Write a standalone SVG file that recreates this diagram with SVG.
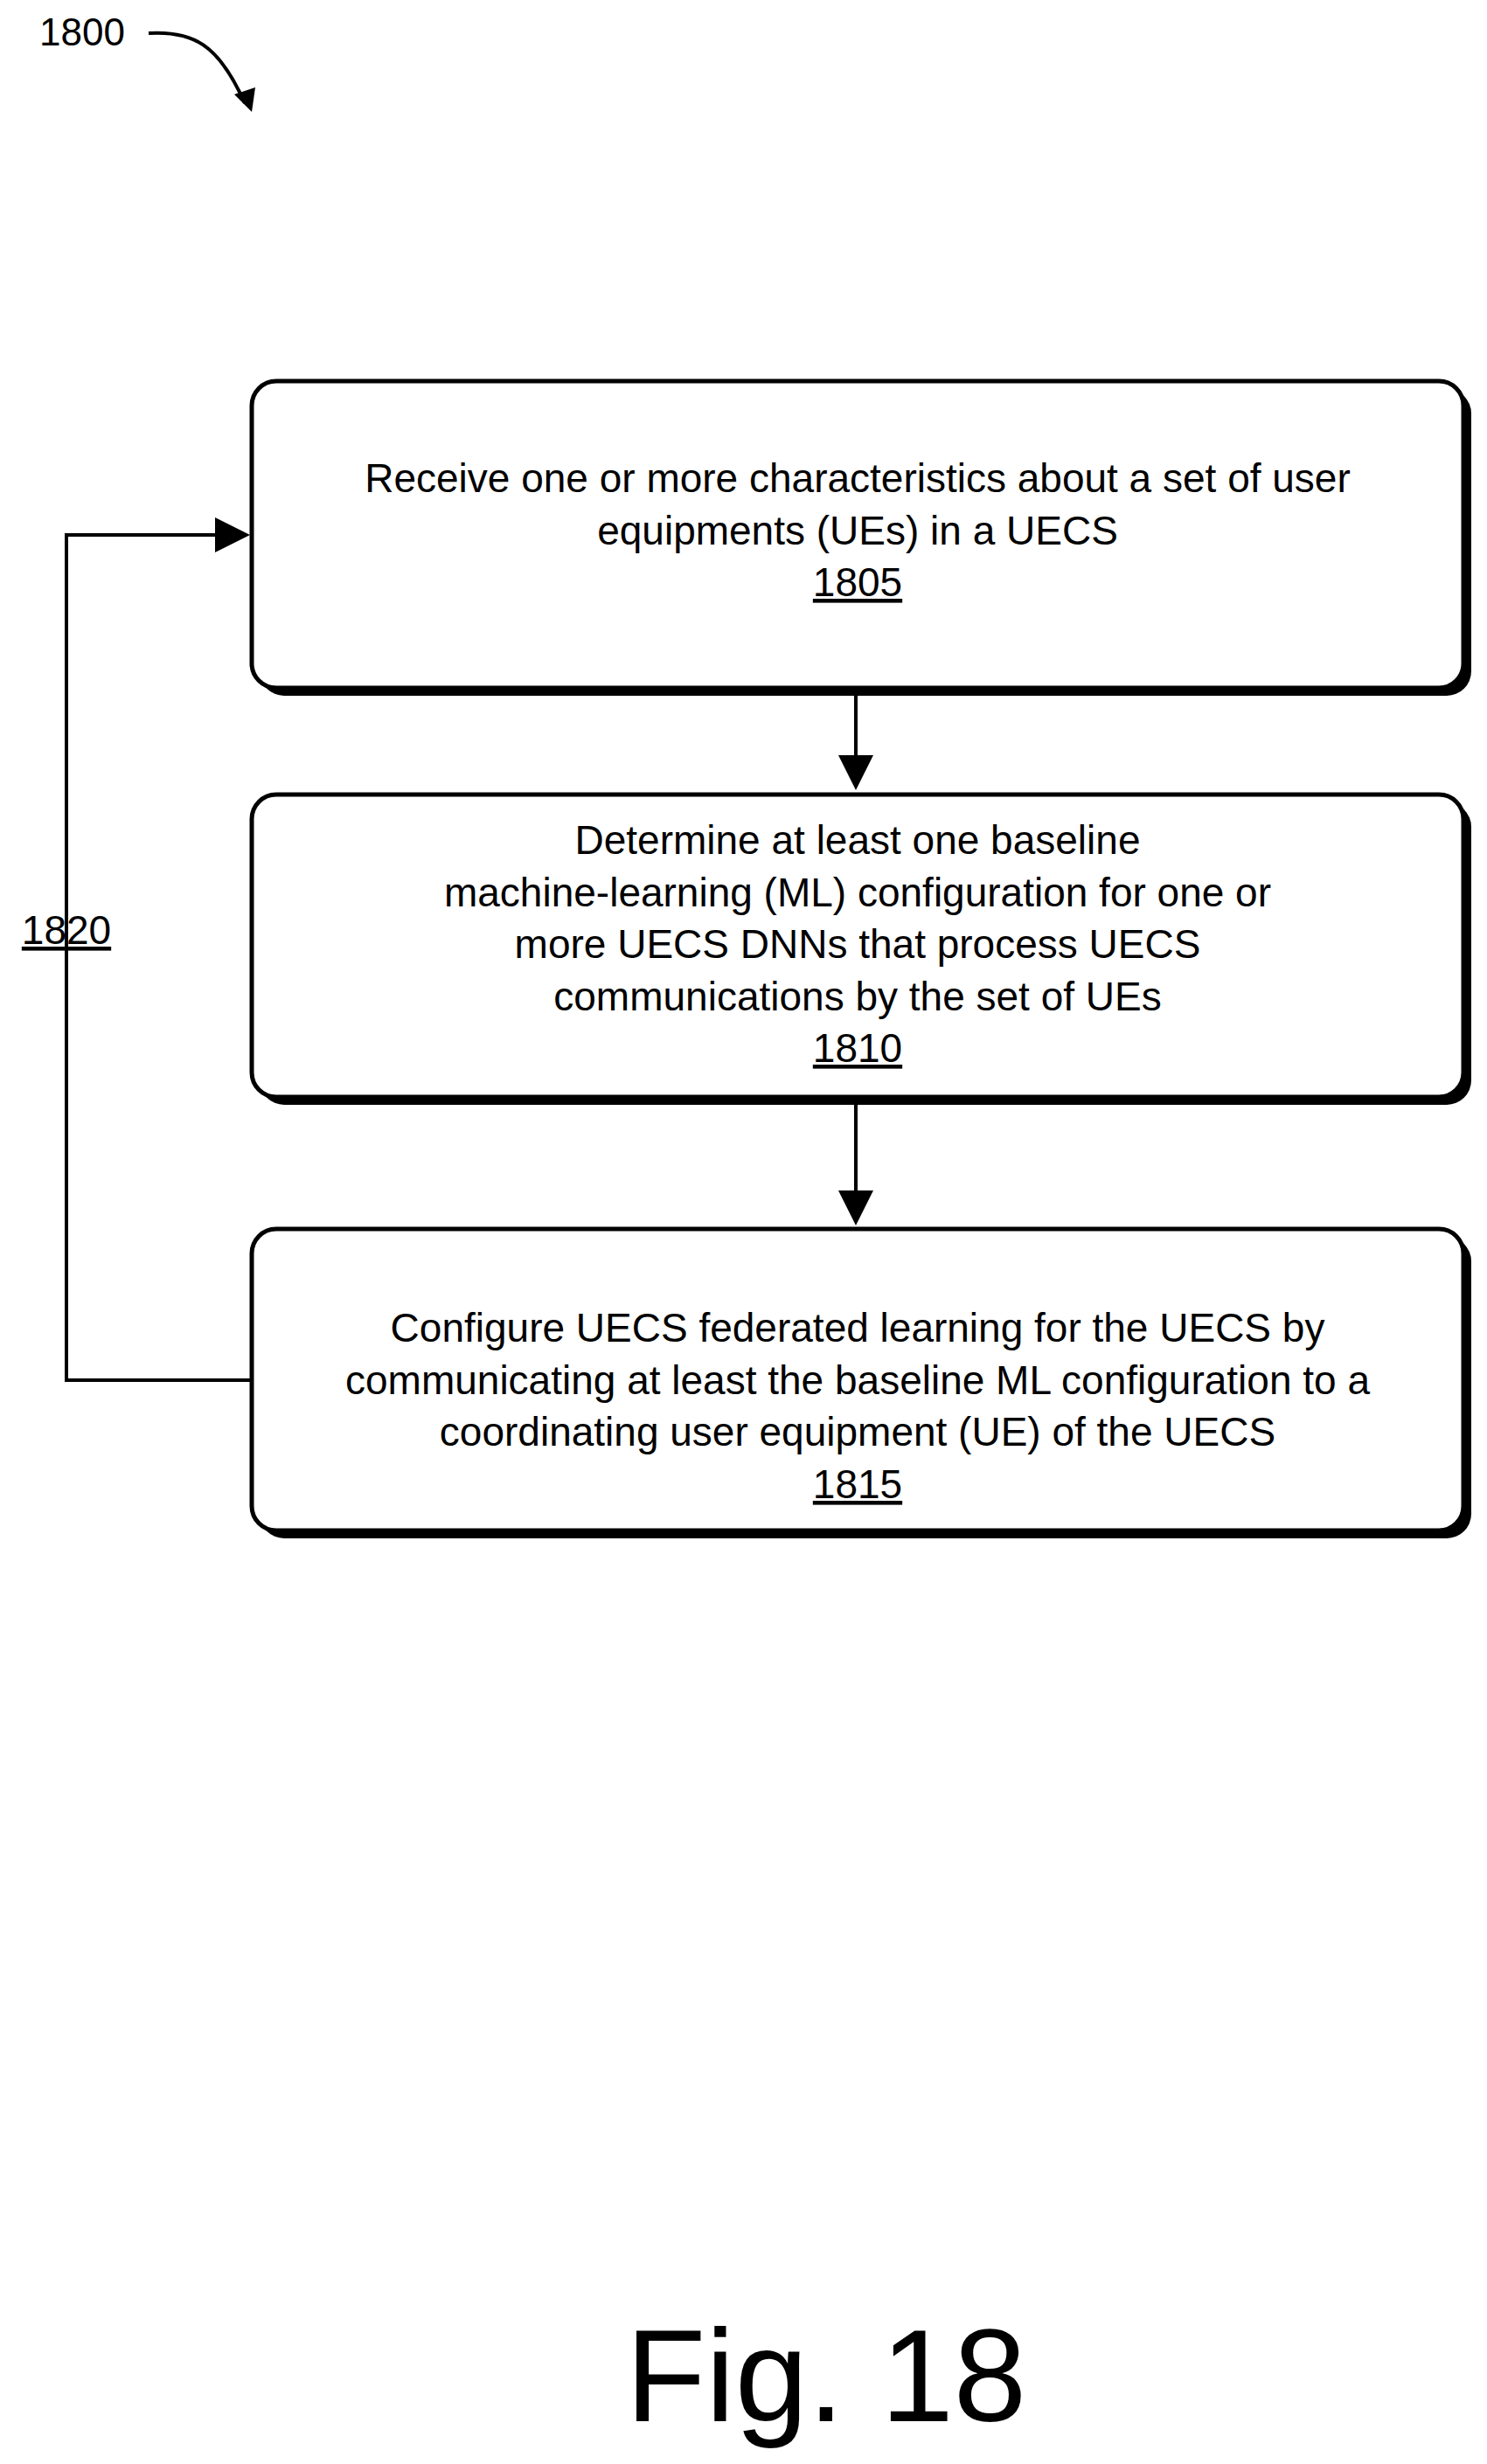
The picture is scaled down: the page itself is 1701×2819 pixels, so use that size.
<svg xmlns="http://www.w3.org/2000/svg" width="1701" height="2819" viewBox="0 0 1701 2819">
<style>
.t{font-family:"Liberation Sans",Arial,sans-serif;font-size:46px;fill:#000;text-anchor:middle}
.box{fill:#fff;stroke:#000;stroke-width:5}
.sh{fill:#000}
.ln{fill:none;stroke:#000;stroke-width:4}
</style>
<defs>
<marker id="ah" markerWidth="10" markerHeight="10" refX="9" refY="5" orient="auto" markerUnits="userSpaceOnUse" viewBox="0 0 10 10">
<path d="M0,0 L10,5 L0,10 z" fill="#000"/>
</marker>
<marker id="ab" viewBox="0 0 10 10" refX="9" refY="5" markerWidth="40" markerHeight="40" orient="auto" markerUnits="userSpaceOnUse"><path d="M0,0 L10,5 L0,10 z" fill="#000"/></marker>
</defs>
<rect width="1701" height="2819" fill="#fff"/>
<g id="label1800">
<text x="45" y="52" class="t" style="text-anchor:start;font-size:44px">1800</text>
<path d="M170,38 C220,35 250,50 280,118" class="ln"/>
<path d="M268,108 L288,128 L292,100 z" fill="#000"/>
</g>
<g id="connectors">
<path d="M979,790 L979,900" class="ln" marker-end="url(#ab)"/>
<path d="M979,1258 L979,1398" class="ln" marker-end="url(#ab)"/>
<path d="M288,1579 L76,1579 L76,612 L282,612" class="ln" marker-end="url(#ab)"/>
<text x="76" y="1080" class="t" text-decoration="underline">1820</text>
</g>
<g id="n1805">
<rect x="297" y="445" width="1386" height="351" rx="28" class="sh"/>
<rect x="288" y="436" width="1386" height="351" rx="28" class="box"/>
<text class="t" x="981" y="563">Receive one or more characteristics about a set of user</text>
<text class="t" x="981" y="623">equipments (UEs) in a UECS</text>
<text class="t" x="981" y="682" text-decoration="underline">1805</text>
</g>
<g id="n1810">
<rect x="297" y="918" width="1386" height="346" rx="28" class="sh"/>
<rect x="288" y="909" width="1386" height="346" rx="28" class="box"/>
<text class="t" x="981" y="977">Determine at least one baseline</text>
<text class="t" x="981" y="1037">machine-learning (ML) configuration for one or</text>
<text class="t" x="981" y="1096">more UECS DNNs that process UECS</text>
<text class="t" x="981" y="1156">communications by the set of UEs</text>
<text class="t" x="981" y="1215" text-decoration="underline">1810</text>
</g>
<g id="n1815">
<rect x="297" y="1415" width="1386" height="345" rx="28" class="sh"/>
<rect x="288" y="1406" width="1386" height="345" rx="28" class="box"/>
<text class="t" x="981" y="1535">Configure UECS federated learning for the UECS by</text>
<text class="t" x="981" y="1595">communicating at least the baseline ML configuration to a</text>
<text class="t" x="981" y="1654">coordinating user equipment (UE) of the UECS</text>
<text class="t" x="981" y="1714" text-decoration="underline">1815</text>
</g>
<text class="t" x="945" y="2770" style="font-size:150px">Fig. 18</text>
</svg>
